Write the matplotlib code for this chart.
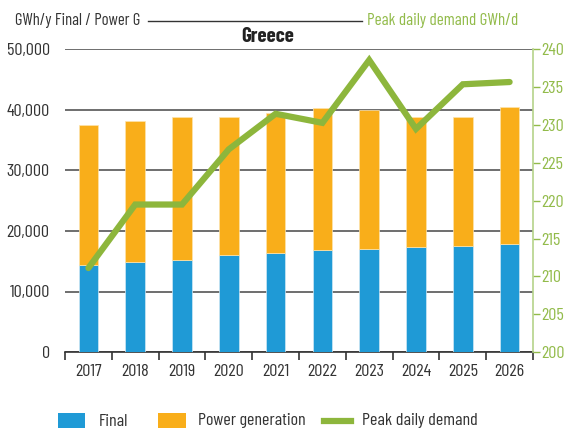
import matplotlib
matplotlib.use("Agg")
import matplotlib.pyplot as plt
from matplotlib import font_manager
from matplotlib.patches import Rectangle
from matplotlib.lines import Line2D
import numpy as np

years = ["2017", "2018", "2019", "2020", "2021", "2022", "2023", "2024", "2025", "2026"]
final = [14400, 14900, 15200, 16000, 16300, 16900, 17100, 17400, 17600, 17900]
total = [37600, 38100, 38900, 38900, 39500, 40300, 39950, 38900, 38900, 40500]
power_gen = [t - f for t, f in zip(total, final)]
peak = [211.1, 219.5, 219.5, 226.8, 231.5, 230.3, 238.6, 229.5, 235.4, 235.7]

left_ticks = [0, 10000, 20000, 30000, 40000, 50000]
right_ticks = [200, 205, 210, 215, 220, 225, 230, 235, 240]

BLUE = "#1f9ad6"
ORANGE = "#f9ae1a"
GREEN = "#8db63c"
GREEN_TXT = "#92bb4a"
DARK = "#333333"

names = {f.name for f in font_manager.fontManager.ttflist}
FONT = next((n for n in ["Barlow Condensed", "Roboto Condensed", "Archivo Narrow",
                         "PT Sans Narrow", "Fira Sans Condensed"] if n in names), "DejaVu Sans")
plt.rcParams["font.family"] = [FONT, "DejaVu Sans"]
FS = 13

W, H = 581, 432
fig = plt.figure(figsize=(W / 100, H / 100), dpi=100)
ax = fig.add_axes([65 / W, 1 - 352 / H, (533 - 65) / W, (352 - 49.5) / H])
x = np.arange(len(years))
w = 0.42

ax.bar(x, final, w, color=BLUE, zorder=3, edgecolor="#cfe8f5", linewidth=0.5)
ax.bar(x, power_gen, w, bottom=final, color=ORANGE, zorder=3, edgecolor="#fde3ad", linewidth=0.5)

ax.set_ylim(0, 50000)
ax.set_xlim(-0.5, len(years) - 0.5)
ax.set_yticks(left_ticks)
ax.set_yticklabels([f"{v:,}" for v in left_ticks], fontsize=FS, color=DARK)
ax.yaxis.grid(True, color="#555555", linewidth=1.2, zorder=0)
ax.set_axisbelow(True)
ax.tick_params(axis="y", length=0, pad=11)

ax.set_xticks(x)
ax.set_xticklabels(years, fontsize=FS, color=DARK)
ax.set_xticks(np.arange(-0.5, len(years)), minor=True)
ax.tick_params(axis="x", which="major", length=0, pad=9)
ax.tick_params(axis="x", which="minor", length=6, width=1.2, color="#333333")

for s in ["top", "left", "right"]:
    ax.spines[s].set_visible(False)
ax.spines["bottom"].set_color("#333333")
ax.spines["bottom"].set_linewidth(1.2)

ax2 = ax.twinx()
ax2.plot(x, peak, color=GREEN, linewidth=4.5, solid_capstyle="round", solid_joinstyle="miter", zorder=5)
ax2.set_ylim(200, 240)
ax2.set_yticks(right_ticks)
ax2.set_yticklabels([str(v) for v in right_ticks], fontsize=FS, color=GREEN_TXT)
ax2.tick_params(axis="y", length=5, width=1, color=GREEN_TXT, pad=1)
for s in ["top", "left", "bottom"]:
    ax2.spines[s].set_visible(False)
ax2.spines["right"].set_color("#b5d38a")
ax2.spines["right"].set_linewidth(1.2)

# header: title and the two axis captions joined by a rule
fig.text(268 / W, 1 - 36 / H, "Greece", ha="center", va="center", fontsize=15,
         fontweight="bold", color="#222222")
fig.text(15 / W, 1 - 21 / H, "GWh/y Final / Power G", ha="left", va="center", fontsize=12, color=DARK)
fig.text(518 / W, 1 - 21 / H, "Peak daily demand GWh/d", ha="right", va="center", fontsize=12.3,
         color=GREEN_TXT)
fig.add_artist(Line2D([148 / W, 362 / W], [1 - 21 / H, 1 - 21 / H], color="#333333", linewidth=1.0))

# legend row
ly = 1 - 421 / H
fig.add_artist(Rectangle((58 / W, 1 - 428 / H), 27 / W, 15 / H, facecolor=BLUE, edgecolor="none"))
fig.text(99 / W, ly, "Final", ha="left", va="center", fontsize=FS, color=DARK)
fig.add_artist(Rectangle((158 / W, 1 - 428 / H), 28 / W, 15 / H, facecolor=ORANGE, edgecolor="none"))
fig.text(198 / W, ly, "Power generation", ha="left", va="center", fontsize=FS, color=DARK)
fig.add_artist(Line2D([324 / W, 351 / W], [ly, ly], color=GREEN, linewidth=4.5))
fig.text(362 / W, ly, "Peak daily demand", ha="left", va="center", fontsize=FS, color=DARK)

fig.savefig("out.png", dpi=100)
